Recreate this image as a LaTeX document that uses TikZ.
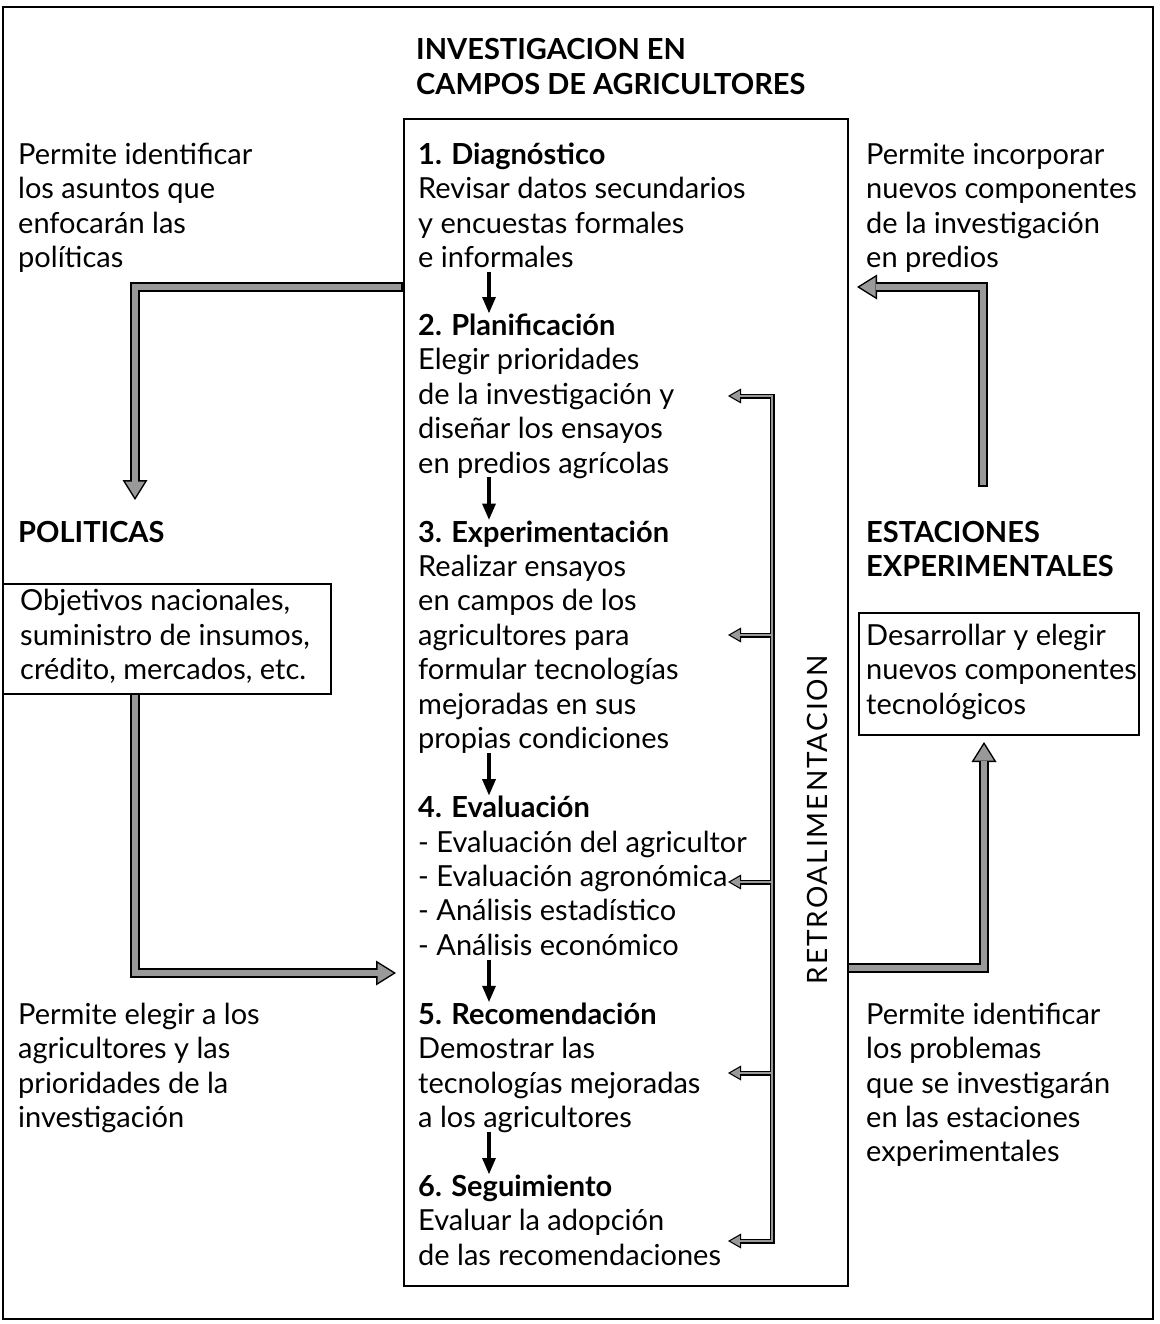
\documentclass[tikz,border=0pt]{standalone}
\usepackage{fontspec}
\setmainfont{Lato}
\newfontfamily\retrofont[LetterSpace=7]{Lato}
\usetikzlibrary{arrows.meta}
\definecolor{arrgray}{gray}{0.6}
\tikzset{
  txt/.style={anchor=north west, inner sep=0pt, align=left, font=\fontsize{29}{34.44}\selectfont},
  boxline/.style={draw, line width=2.4pt, anchor=north west, inner sep=0pt},
  bigout/.style={line width=10pt, black, -{Triangle[width=25pt,length=20pt,line width=0pt]}},
  bigin/.style={line width=6.6pt, arrgray, shorten >=2.8pt, shorten <=1.6pt, -{Triangle[width=19.6pt,length=15.7pt,line width=0pt]}},
  fbout/.style={line width=5pt, black, -{Triangle[width=15pt,length=13pt,line width=0pt]}},
  fbin/.style={line width=2.6pt, arrgray, shorten >=2.4pt, -{Triangle[width=10.8pt,length=9.4pt,line width=0pt]}},
  blk/.style={line width=3.2pt, black, -{Triangle[width=14pt,length=16pt,line width=0pt]}},
}
\begin{document}
\begin{tikzpicture}[x=1pt,y=-1pt]
\useasboundingbox (0,0) rectangle (1159,1324);
% frames
\node[boxline, minimum width=1150pt, minimum height=1312pt] (frame) at (2,6) {};
\node[boxline, minimum width=444pt, minimum height=1167pt] (main) at (403,118) {};
\node[boxline, minimum width=328pt, minimum height=110pt] (polbox) at (2,583) {};
\node[boxline, minimum width=280pt, minimum height=122pt] (estbox) at (858,612) {};

% title
\node[txt] (title) at (416,35.6) {\strut\bfseries INVESTIGACION EN\\\bfseries CAMPOS DE AGRICULTORES};

% stages
\node[txt] (s1) at (418,139.9) {\strut\textbf{1. Diagnóstico}\\Revisar datos secundarios\\y encuestas formales\\e informales\strut};
\node[txt] (s2) at (418,311.1) {\strut\textbf{2. Planificación}\\Elegir prioridades\\de la investigación y\\diseñar los ensayos\\en predios agrícolas\strut};
\node[txt] (s3) at (418,517.7) {\strut\textbf{3. Experimentación}\\Realizar ensayos\\en campos de los\\agricultores para\\formular tecnologías\\mejoradas en sus\\propias condiciones\strut};
\node[txt] (s4) at (418,793.3) {\strut\textbf{4. Evaluación}\\- Evaluación del agricultor\\- Evaluación agronómica\\- Análisis estadístico\\- Análisis económico\strut};
\node[txt] (s5) at (418,999.9) {\strut\textbf{5. Recomendación}\\Demostrar las\\tecnologías mejoradas\\a los agricultores\strut};
\node[txt] (s6) at (418,1172.1) {\strut\textbf{6. Seguimiento}\\Evaluar la adopción\\de las recomendaciones\strut};

% side texts
\node[txt] (lt) at (18,139.9) {\strut Permite identificar\\los asuntos que\\enfocarán las\\políticas};
\node[txt] (rt) at (866,139.9) {\strut Permite incorporar\\nuevos componentes\\de la investigación\\en predios};
\node[txt] (pol) at (18,517.7) {\strut\bfseries POLITICAS};
\node[txt] (poltext) at (20,586.6) {\strut Objetivos nacionales,\\suministro de insumos,\\crédito, mercados, etc.};
\node[txt] (est) at (866,517.7) {\strut\bfseries ESTACIONES\\\bfseries EXPERIMENTALES};
\node[txt] (esttext) at (866,621.1) {\strut Desarrollar y elegir\\nuevos componentes\\tecnológicos};
\node[txt] (lb) at (18,999.9) {\strut Permite elegir a los\\agricultores y las\\prioridades de la\\investigación};
\node[txt] (rb) at (866,999.9) {\strut Permite identificar\\los problemas\\que se investigarán\\en las estaciones\\experimentales};

\node[rotate=90, inner sep=0pt, font=\retrofont\fontsize{28}{32}\selectfont] (retro) at (817,820) {RETROALIMENTACION};

% black stage arrows
\coordinate (ax) at (489,0);
\foreach \a/\b in {s1/s2,s2/s3,s3/s4,s4/s5,s5/s6}
  \draw[blk, shorten <=-6.3pt, shorten >=-1.9pt] (\a.south -| ax) -- (\b.north -| ax);

% big gray arrows
\coordinate (a1s) at (403,287);
\coordinate (a1e) at (135,500);
\coordinate (a2s) at (135,693);
\coordinate (a2e) at (396,973);
\coordinate (a3s) at (847,968);
\coordinate (a3e) at (984,742);
\coordinate (a4s) at (983,487);
\coordinate (a4e) at (857,287);
\draw[bigout] (a1s) -| (a1e);
\draw[bigin]  (a1s) -| (a1e);
\draw[bigout] (a2s) |- (a2e);
\draw[bigin]  (a2s) |- (a2e);
\draw[bigout] (a3s) -| (a3e);
\draw[bigin]  (a3s) -| (a3e);
\draw[bigout] (a4s) |- (a4e);
\draw[bigin]  (a4s) |- (a4e);

% feedback
\coordinate (fbtop) at (772,396);
\coordinate (j3) at (772,635);
\coordinate (j4) at (772,882);
\coordinate (j5) at (772,1073);
\coordinate (fbbot) at (772,1241);
\coordinate (fb2) at (728,396);
\coordinate (fb3) at (728,635);
\coordinate (fb4) at (728,882);
\coordinate (fb5) at (728,1073);
\coordinate (fb6) at (728,1241);
\draw[line width=5pt, black, line cap=rect] (fbtop) -- (fbbot);
\foreach \j/\t in {fbtop/fb2, j3/fb3, j4/fb4, j5/fb5, fbbot/fb6}
  \draw[fbout] (\j) -- (\t);
\draw[line width=2.6pt, arrgray, line cap=rect] (fbtop) -- (fbbot);
\foreach \j/\t in {fbtop/fb2, j3/fb3, j4/fb4, j5/fb5, fbbot/fb6}
  \draw[fbin] (\j) -- (\t);
\end{tikzpicture}
\end{document}
